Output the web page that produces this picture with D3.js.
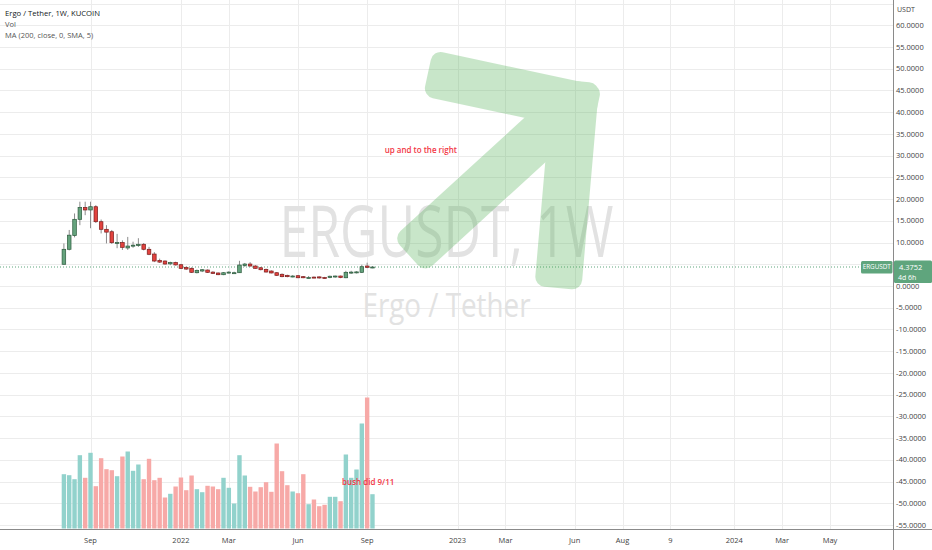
<!DOCTYPE html>
<html><head><meta charset="utf-8">
<script src="https://cdn.jsdelivr.net/npm/d3@7"></script>
<style>html,body{margin:0;padding:0;background:#fff;overflow:hidden}</style>
</head><body><svg id="chart" width="932" height="550"></svg>
<script>
// ---------------- DATA ----------------
const weeks = ["2021-08-02","2021-08-09","2021-08-16","2021-08-23","2021-08-30",
"2021-09-06","2021-09-13","2021-09-20","2021-09-27","2021-10-04","2021-10-11","2021-10-18","2021-10-25",
"2021-11-01","2021-11-08","2021-11-15","2021-11-22","2021-11-29","2021-12-06","2021-12-13","2021-12-20","2021-12-27",
"2022-01-03","2022-01-10","2022-01-17","2022-01-24","2022-01-31","2022-02-07","2022-02-14","2022-02-21","2022-02-28",
"2022-03-07","2022-03-14","2022-03-21","2022-03-28","2022-04-04","2022-04-11","2022-04-18","2022-04-25",
"2022-05-02","2022-05-09","2022-05-16","2022-05-23","2022-05-30","2022-06-06","2022-06-13","2022-06-20","2022-06-27",
"2022-07-04","2022-07-11","2022-07-18","2022-07-25","2022-08-01","2022-08-08","2022-08-15","2022-08-22","2022-08-29",
"2022-09-05","2022-09-12"];
const opens  = [5.0,8.45,11.6,15.35,18.1,17.5,18.25,14.8,13.05,12.5,9.9,10.0,8.75,9.2,9.3,9.6,8.45,7.36,5.9,5.75,5.1,5.4,4.9,4.3,4.07,3.06,3.45,3.68,3.2,3.0,2.6,3.0,3.0,3.06,4.7,5.06,4.6,4.2,3.84,3.45,3.06,2.7,2.46,2.15,2.37,2.15,1.9,2.05,2.1,1.95,1.95,2.1,2.3,1.9,3.0,3.1,3.15,4.6,4.2];
const highs  = [9.8,12.9,16.7,19.4,19.4,19.4,18.6,15.3,14.0,12.9,12.0,10.5,11.3,10.2,11.0,9.9,9.0,7.8,6.3,5.9,5.6,5.6,5.1,4.5,4.3,3.8,3.9,3.8,3.4,3.1,3.2,3.4,3.3,5.8,5.3,5.5,4.8,4.4,4.0,3.6,3.2,2.9,2.6,2.5,2.5,2.3,2.3,2.2,2.2,2.1,2.4,2.4,2.4,3.5,3.5,3.4,4.9,5.37,4.6];
const lows   = [4.9,8.2,11.2,14.0,16.3,13.3,14.5,12.1,9.8,9.67,8.7,8.3,8.3,8.8,9.0,8.2,7.1,5.5,5.3,4.9,4.8,4.7,3.9,3.7,3.0,2.9,3.2,3.0,2.8,2.5,2.5,2.9,2.9,3.0,4.4,4.5,4.0,3.6,3.1,2.9,2.3,2.0,2.0,2.0,1.8,1.8,1.8,1.8,1.7,1.7,1.8,1.9,1.8,1.8,2.8,2.9,3.0,4.1,4.1];
const closes = [8.45,11.7,15.35,18.1,17.5,18.25,14.8,13.05,12.4,9.97,10.0,8.9,9.2,9.4,9.6,8.45,7.3,5.75,5.5,5.06,5.4,4.85,4.07,3.9,3.15,3.6,3.75,3.15,2.9,2.6,3.06,3.2,3.06,4.83,5.06,4.6,4.07,3.75,3.22,3.0,2.46,2.15,2.15,2.3,1.9,1.9,1.95,1.9,1.85,1.85,2.25,2.3,1.95,3.15,3.2,3.25,4.44,4.3,4.3752];
const volumes = [543,533,493,733,507,757,423,703,593,583,523,720,770,577,640,493,697,483,507,310,347,420,510,383,530,393,363,427,420,393,507,407,250,733,530,417,370,413,463,367,850,573,433,370,353,543,243,290,223,237,317,317,273,740,507,590,1050,1310,343];

// price-scale ticks (5.0000 is hidden behind the last-price badge in the reference)
const priceTicks = [-55,-50,-45,-40,-35,-30,-25,-20,-15,-10,-5,0,5,10,15,20,25,30,35,40,45,50,55,60];
const hiddenPriceLabels = [5];
const gridExtra = [65];
const timeTickDates  = ["2021-09-06","2022-01-03","2022-03-07","2022-06-06","2022-09-05","2023-01-02","2023-03-06","2023-06-05","2023-08-07","2023-10-09","2024-01-01","2024-03-04","2024-05-06"];
const timeTickLabels = ["Sep","2022","Mar","Jun","Sep","2023","Mar","Jun","Aug","9","2024","Mar","May"];

// drawing: arrow points (date, price)
const arrowTail  = ["2022-10-30", 7.1];
const arrowApex  = ["2023-06-04", 41.8];
const arrowTop   = ["2022-11-24", 49.0];
const arrowFoot  = ["2023-05-14", -0.46];
const note1 = {text:"up and to the right", date:"2022-09-28", price:31.3};
const note2 = {text:"bush did 9/11", date:"2022-08-03", vol:465};
const lastPrice = 4.3752;

// ---------------- SETUP ----------------
const W = 932, H = 550, axisX = 893, axisY = 529;
const font = "'Open Sans','DejaVu Sans',sans-serif";
const parse = d3.utcParse("%Y-%m-%d");
const svg = d3.select("#chart");

const x = d3.scaleUtc().domain([parse("2021-09-06"), parse("2024-05-06")]).range([90.5, 830]);
const y = d3.scaleLinear().domain([-55, 60]).range([525, 25.3]);
const yVol = d3.scaleLinear().domain([0, 1310]).range([528.5, 397.5]);

const bars = weeks.map((w,i)=>({d:parse(w),o:opens[i],h:highs[i],l:lows[i],c:closes[i],v:volumes[i]}));

svg.append("rect").attr("width",W).attr("height",H).attr("fill","#fff");

svg.append("clipPath").attr("id","pane").append("rect").attr("x",0).attr("y",0).attr("width",axisX).attr("height",axisY);
const pane = svg.append("g").attr("clip-path","url(#pane)");

// grid
const grid = pane.append("g").attr("stroke","#ececec").attr("stroke-width",1);
grid.selectAll("line.h").data(priceTicks.concat(gridExtra)).join("line")
  .attr("x1",0).attr("x2",axisX).attr("y1",d=>Math.round(y(d))+0.5).attr("y2",d=>Math.round(y(d))+0.5);
grid.selectAll("line.v").data(timeTickDates).join("line")
  .attr("y1",0).attr("y2",axisY).attr("x1",d=>Math.round(x(parse(d)))+0.5).attr("x2",d=>Math.round(x(parse(d)))+0.5);

// watermark
const cx = axisX/2;
pane.append("text").text("ERGUSDT, 1W").attr("x",cx).attr("y",257).attr("text-anchor","middle")
  .attr("font-family",font).attr("font-size",72).attr("fill","#e2e2e2")
  .attr("textLength",334).attr("lengthAdjust","spacingAndGlyphs");
pane.append("text").text("Ergo / Tether").attr("x",cx).attr("y",317).attr("text-anchor","middle")
  .attr("font-family",font).attr("font-size",33).attr("fill","#e2e2e2")
  .attr("textLength",168).attr("lengthAdjust","spacingAndGlyphs");

// last price dotted line
pane.append("line").attr("x1",0).attr("x2",axisX).attr("y1",y(lastPrice)).attr("y2",y(lastPrice))
  .attr("stroke","#5fa57d").attr("stroke-width",1).attr("stroke-dasharray","1,2");

// volume
const bw = 4.4;
pane.append("g").selectAll("rect").data(bars).join("rect")
  .attr("x",d=>x(d.d)-bw/2).attr("width",bw)
  .attr("y",d=>yVol(d.v)).attr("height",d=>yVol(0)-yVol(d.v))
  .attr("fill",d=>d.c>=d.o?"#92d2cc":"#f7a9a7");

// candles
const cg = pane.append("g");
cg.selectAll("line").data(bars).join("line")
  .attr("x1",d=>x(d.d)).attr("x2",d=>x(d.d)).attr("y1",d=>y(d.h)).attr("y2",d=>y(d.l))
  .attr("stroke","#8c8c8c").attr("stroke-width",1);
const cw = 3.6;
cg.selectAll("rect").data(bars).join("rect")
  .attr("x",d=>x(d.d)-cw/2).attr("width",cw)
  .attr("y",d=>y(Math.max(d.o,d.c))).attr("height",d=>Math.max(1,Math.abs(y(d.o)-y(d.c))))
  .attr("fill",d=>d.c>=d.o?"#65a37d":"#e2423e")
  .attr("stroke",d=>d.c>=d.o?"#2c5a3d":"#7a1d1d").attr("stroke-width",0.7);

// arrow drawing
const pt = p=>[x(parse(p[0])), y(p[1])];
const SW = 47;
function segRect(g, P, Q, ext){
  const dx=Q[0]-P[0], dy=Q[1]-P[1], len=Math.hypot(dx,dy), ang=Math.atan2(dy,dx)*180/Math.PI;
  g.append("rect").attr("x",0).attr("y",-SW/2).attr("width",len+ext).attr("height",SW)
   .attr("rx",10).attr("ry",10)
   .attr("transform",`translate(${P[0]},${P[1]}) rotate(${ang})`);
}
const ag = pane.append("g").attr("opacity",0.3).attr("fill","#4caf50");
const A = pt(arrowApex);
segRect(ag, pt(arrowTail), A, 0);
segRect(ag, pt(arrowTop), A, SW/2);
segRect(ag, pt(arrowFoot), A, SW/2);

// notes
pane.append("text").text(note1.text).attr("x",x(parse(note1.date))).attr("y",y(note1.price)+3)
  .attr("font-family",font).attr("font-size",8).attr("font-weight",600).attr("fill","#f23645");
pane.append("text").text(note2.text).attr("x",x(parse(note2.date))).attr("y",yVol(note2.vol)+3)
  .attr("font-family",font).attr("font-size",8).attr("font-weight",600).attr("fill","#f23645");

// axes lines
svg.append("line").attr("x1",axisX+0.5).attr("x2",axisX+0.5).attr("y1",0).attr("y2",H).attr("stroke","#8a8a8a");
svg.append("line").attr("x1",0).attr("x2",W).attr("y1",axisY+0.5).attr("y2",axisY+0.5).attr("stroke","#8a8a8a");

// price axis labels
const pa = svg.append("g").attr("font-family",font).attr("font-size",7.5).attr("fill","#3f3f3f");
pa.selectAll("text").data(priceTicks.filter(v=>!hiddenPriceLabels.includes(v))).join("text")
  .attr("x",axisX+3).attr("y",d=>y(d)+2.6).text(d=>d.toFixed(4));
svg.append("text").text("USDT").attr("x",axisX+4).attr("y",12)
  .attr("font-family",font).attr("font-size",7).attr("fill","#3f3f3f");

// time axis labels
svg.append("g").attr("font-family",font).attr("font-size",7.5).attr("fill","#3f3f3f")
  .selectAll("text").data(timeTickDates).join("text")
  .attr("x",d=>x(parse(d))).attr("y",542.5).attr("text-anchor","middle")
  .text((d,i)=>timeTickLabels[i]);

// badges
const yl = y(lastPrice);
const badge = "#5fa57d";
svg.append("rect").attr("x",861).attr("y",yl-6).attr("width",31.5).attr("height",12.5).attr("rx",1.5).attr("fill",badge);
svg.append("text").text("ERGUSDT").attr("x",876.7).attr("y",yl+2.3).attr("text-anchor","middle")
  .attr("font-family",font).attr("font-size",6.3).attr("fill","#fff");
svg.append("rect").attr("x",axisX+1).attr("y",yl-6.5).attr("width",W-axisX-1).attr("height",22.5).attr("rx",1.5).attr("fill",badge);
svg.append("text").text(lastPrice.toFixed(4)).attr("x",axisX+6).attr("y",yl+2.7)
  .attr("font-family",font).attr("font-size",7.5).attr("fill","#fff");
svg.append("text").text("4d 6h").attr("x",axisX+5).attr("y",yl+12.5)
  .attr("font-family",font).attr("font-size",7).attr("fill","#fff");

// legend
const lg = svg.append("g").attr("font-family",font);
lg.append("text").text("Ergo / Tether, 1W, KUCOIN").attr("x",5).attr("y",15.5).attr("font-size",7.7).attr("fill","#131722");
lg.append("text").text("Vol").attr("x",5).attr("y",26.5).attr("font-size",7.5).attr("fill","#555");
lg.append("text").text("MA (200, close, 0, SMA, 5)").attr("x",5).attr("y",37.5).attr("font-size",7.5).attr("fill","#555");
</script></body></html>
